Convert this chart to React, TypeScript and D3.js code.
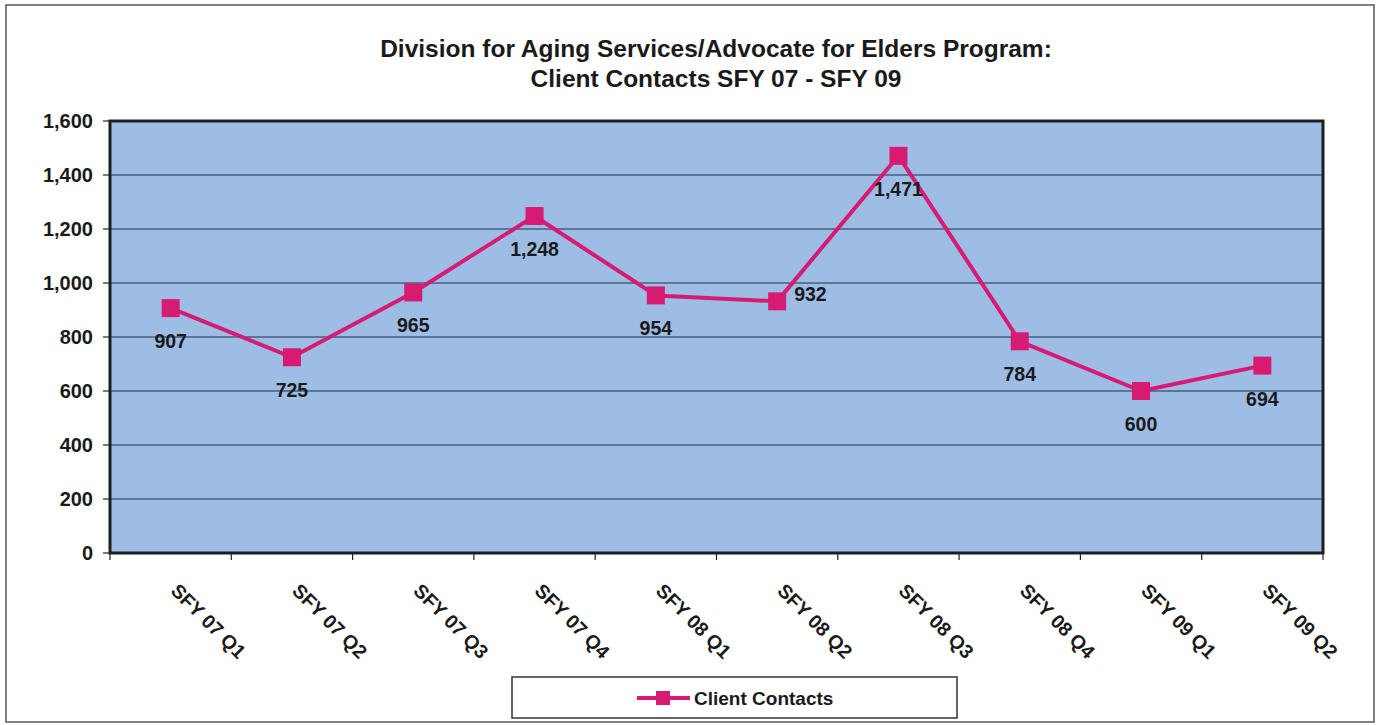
import React from "react";
import * as d3 from "d3";

const categories = [
  "SFY 07 Q1", "SFY 07 Q2", "SFY 07 Q3", "SFY 07 Q4", "SFY 08 Q1",
  "SFY 08 Q2", "SFY 08 Q3", "SFY 08 Q4", "SFY 09 Q1", "SFY 09 Q2",
];
const clientContacts = [907, 725, 965, 1248, 954, 932, 1471, 784, 600, 694];
const labelPlacement = ["below", "below", "below", "below", "below", "right", "below", "below", "below", "below"];
const yTicks = [0, 200, 400, 600, 800, 1000, 1200, 1400, 1600];
const titleLines = [
  "Division for Aging Services/Advocate for Elders Program:",
  "Client Contacts SFY 07 - SFY 09",
];
const seriesName = "Client Contacts";

const W = 1377;
const H = 725;
const plot = { left: 110, top: 121, right: 1323, bottom: 553 };
const FONT = "'Liberation Sans', Arial, Helvetica, sans-serif";
const LINE = "#D81B72";
const fmt = d3.format(",");

export default function App() {
  const x = d3
    .scaleBand<string>()
    .domain(categories)
    .range([plot.left, plot.right])
    .paddingInner(0)
    .paddingOuter(0);
  const y = d3.scaleLinear().domain([0, 1600]).range([plot.bottom, plot.top]);
  const cx = (c: string) => (x(c) as number) + x.bandwidth() / 2;

  const line = d3
    .line<number>()
    .x((_, i) => cx(categories[i]))
    .y((d) => y(d));

  const boundaries = categories.map((c) => x(c) as number).concat([plot.right]);

  return (
    <svg
      width={W}
      height={H}
      style={{ position: "absolute", left: 0, top: 0, background: "#fff" }}
      fontFamily={FONT}
    >
      <rect x={0} y={0} width={W} height={H} fill="#fff" />
      <rect x={6} y={5} width={1368} height={717} fill="none" stroke="#555" strokeWidth={1.5} />

      {titleLines.map((t, i) => (
        <text
          key={i}
          x={716}
          y={57 + i * 30}
          textAnchor="middle"
          fontSize={24.5}
          fontWeight="bold"
          fill="#1a1a1a"
        >
          {t}
        </text>
      ))}

      {/* plot area */}
      <rect
        x={plot.left}
        y={plot.top}
        width={plot.right - plot.left}
        height={plot.bottom - plot.top}
        fill="#9DBDE5"
      />
      {yTicks
        .filter((t) => t > 0 && t < 1600)
        .map((t) => (
          <line
            key={t}
            x1={plot.left}
            x2={plot.right}
            y1={y(t)}
            y2={y(t)}
            stroke="#1E3048"
            strokeWidth={1.2}
          />
        ))}
      <rect
        x={plot.left}
        y={plot.top}
        width={plot.right - plot.left}
        height={plot.bottom - plot.top}
        fill="none"
        stroke="#1b1f22"
        strokeWidth={3}
      />

      {/* y axis ticks */}
      {yTicks.map((t) => (
        <g key={t}>
          <line x1={plot.left - 7} x2={plot.left} y1={y(t)} y2={y(t)} stroke="#222" strokeWidth={1.2} />
          <text
            x={93}
            y={y(t)}
            dy="0.36em"
            textAnchor="end"
            fontSize={20}
            fontWeight="bold"
            fill="#1a1a1a"
          >
            {fmt(t)}
          </text>
        </g>
      ))}

      {/* x axis ticks */}
      {boundaries.map((b, i) => (
        <line key={i} x1={b} x2={b} y1={plot.bottom} y2={plot.bottom + 7} stroke="#222" strokeWidth={1.2} />
      ))}
      {categories.map((c) => (
        <text
          key={c}
          transform={`translate(${cx(c) - 1},${plot.bottom + 39}) rotate(45)`}
          textAnchor="start"
          fontSize={19.5}
          fontWeight="bold"
          fill="#1a1a1a"
        >
          {c}
        </text>
      ))}

      {/* series */}
      <path d={line(clientContacts) || ""} fill="none" stroke={LINE} strokeWidth={4} strokeLinejoin="round" />
      {clientContacts.map((v, i) => (
        <rect
          key={i}
          x={cx(categories[i]) - 9}
          y={y(v) - 9}
          width={18}
          height={18}
          fill={LINE}
        />
      ))}
      {clientContacts.map((v, i) => {
        const px = cx(categories[i]);
        const py = y(v);
        const right = labelPlacement[i] === "right";
        return (
          <text
            key={i}
            x={right ? px + 17 : px}
            y={right ? py - 7 : py + 33}
            dy="0.36em"
            textAnchor={right ? "start" : "middle"}
            fontSize={19.5}
            fontWeight="bold"
            fill="#1a1a1a"
          >
            {fmt(v)}
          </text>
        );
      })}

      {/* legend */}
      <rect x={512} y={677} width={445} height={41} fill="#fff" stroke="#333" strokeWidth={1.5} />
      <line x1={637} x2={690} y1={698} y2={698} stroke={LINE} strokeWidth={4} />
      <rect x={656} y={691} width={14} height={14} fill={LINE} />
      <text x={694} y={698} dy="0.36em" fontSize={19} fontWeight="bold" fill="#1a1a1a">
        {seriesName}
      </text>
    </svg>
  );
}
